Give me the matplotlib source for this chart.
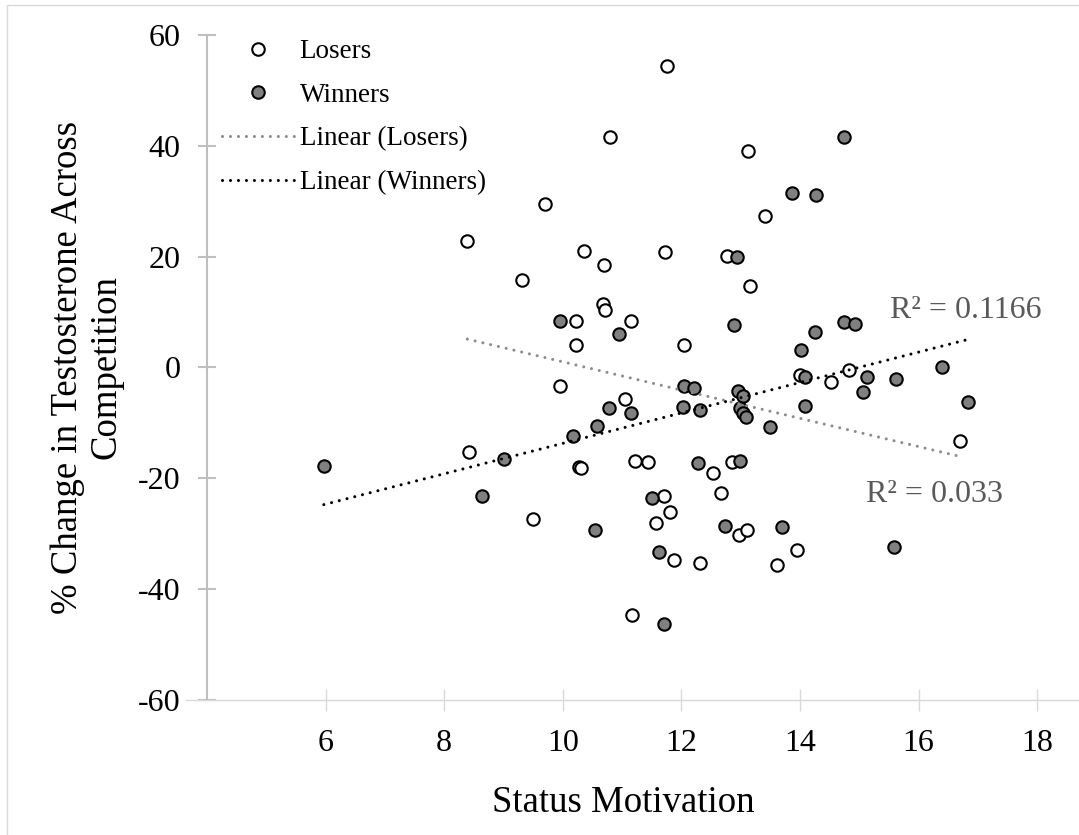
import numpy as np
import matplotlib
matplotlib.use('Agg')
import matplotlib.pyplot as plt
from matplotlib.lines import Line2D
from matplotlib.patches import Rectangle

plt.rcParams['font.family'] = ['Liberation Serif', 'DejaVu Serif']
plt.rcParams['axes.unicode_minus'] = False

# status motivation vs % change in testosterone, by outcome
losers_x = [11.76, 10.80, 9.70, 8.39, 10.35, 11.73, 13.13, 13.41, 9.32, 9.96,
            12.77, 10.70, 13.16, 10.68, 10.71, 10.22, 11.15, 10.22, 12.04, 14.00,
            11.05, 14.82, 14.52, 16.69, 8.42, 9.49, 10.27, 10.31, 11.22, 11.43,
            12.53, 12.85, 12.66, 11.70, 11.80, 11.57, 12.97, 13.11, 13.95, 13.62,
            11.88, 12.31, 11.16]
losers_y = [54.4, 41.6, 29.5, 22.8, 21.0, 20.8, 39.0, 27.3, 15.7, -3.4,
            20.1, 18.5, 14.7, 11.5, 10.3, 8.4, 8.4, 4.0, 4.0, -1.4,
            -5.6, -0.5, -2.6, -13.3, -15.3, -27.3, -17.9, -18.1, -16.8, -17.0,
            -19.0, -17.1, -22.6, -23.1, -26.0, -28.0, -30.3, -29.4, -32.9, -35.6,
            -34.8, -35.3, -44.7]

winners_x = [14.74, 13.86, 14.27, 12.94, 9.96, 12.89, 10.95, 14.02, 12.05, 12.21,
             14.09, 12.96, 13.04, 10.78, 12.02, 12.32, 12.99, 13.04, 13.09, 14.08,
             11.15, 10.58, 13.50, 10.18, 14.74, 14.92, 14.25, 16.40, 15.13, 15.62,
             15.06, 16.83, 5.97, 9.01, 8.63, 12.28, 12.98, 11.50, 10.55, 12.73,
             13.70, 11.62, 11.71, 15.58]
winners_y = [41.6, 31.5, 31.2, 20.0, 8.4, 7.6, 6.0, 3.2, -3.4, -3.7,
             -1.7, -4.3, -5.2, -7.3, -7.2, -7.7, -7.3, -8.3, -8.9, -7.0,
             -8.3, -10.5, -10.8, -12.4, 8.2, 7.9, 6.4, 0.0, -1.7, -2.0,
             -4.5, -6.3, -17.8, -16.6, -23.1, -17.3, -16.9, -23.5, -29.4, -28.6,
             -28.8, -33.3, -46.2, -32.4]

x_ticks = [6, 8, 10, 12, 14, 16, 18]
y_ticks = [-60, -40, -20, 0, 20, 40, 60]

r2_winners = 'R² = 0.1166'
r2_losers = 'R² = 0.033'

W, H = 1079, 835
fig = plt.figure(figsize=(W / 100, H / 100), dpi=100)

# chart area border
fig.add_artist(Rectangle((7 / W, -0.05), 2, 1 - 5 / H + 0.05, fill=False,
                         edgecolor='#d9d9d9', linewidth=1,
                         transform=fig.transFigure))

ax = fig.add_axes([207 / W, 1 - 700 / H, 1 - 207 / W, (700 - 35) / H])

ax.scatter(losers_x, losers_y, s=80, facecolor='white', edgecolor='black',
           linewidth=1.5, zorder=3)
ax.scatter(winners_x, winners_y, s=80, facecolor='#808080', edgecolor='black',
           linewidth=1.5, zorder=3)

# least-squares trend lines over each group's x range
dots = (0, (0.01, 2.6))
for xs, ys, col in [(losers_x, losers_y, '#8c8c8c'), (winners_x, winners_y, 'black')]:
    k, b = np.polyfit(xs, ys, 1)
    xx = np.array([min(xs), max(xs)])
    ax.plot(xx, k * xx + b, linestyle=dots, dash_capstyle='round', lw=2.2,
            color=col, zorder=4)

ax.text(15.51, 10.2, r2_winners, fontsize=23, color='#595959', va='center')
ax.text(15.12, -22.9, r2_losers, fontsize=23, color='#595959', va='center')

xmax = 4 + (W - 207) / 59.3
ax.set_xlim(4, xmax)
ax.set_ylim(-60, 60)
ax.set_xticks(x_ticks)
ax.set_yticks(y_ticks)
ax.tick_params(axis='x', direction='inout', length=16, width=1, color='#d9d9d9',
               pad=13, labelsize=23)
ax.tick_params(axis='y', direction='inout', length=13, width=1.5, color='#bfbfbf',
               pad=12.5, labelsize=23)
for s in ['top', 'right']:
    ax.spines[s].set_visible(False)
ax.spines['left'].set_color('#bfbfbf')
ax.spines['left'].set_linewidth(1.5)
ax.spines['left'].set_zorder(2.5)
ax.spines['bottom'].set_color('#d9d9d9')
ax.spines['bottom'].set_linewidth(1)
ax.spines['bottom'].set_bounds(3.65, xmax)

fig.text(623 / W, 1 - 812 / H, 'Status Motivation', fontsize=26.5,
         ha='center', va='baseline')
fig.text(87 / W, 1 - 367 / H, '% Change in Testosterone Across\nCompetition',
         fontsize=26.5, rotation=90, ha='center', va='center', linespacing=1.12)

handles = [
    Line2D([], [], marker='o', linestyle='none', ms=9, mfc='white', mec='black', mew=1.5),
    Line2D([], [], marker='o', linestyle='none', ms=9, mfc='#808080', mec='black', mew=1.5),
    Line2D([], [], linestyle=dots, dash_capstyle='round', lw=2.2, color='#8c8c8c'),
    Line2D([], [], linestyle=dots, dash_capstyle='round', lw=2.2, color='black'),
]
labels = ['Losers', 'Winners', 'Linear (Losers)', 'Linear (Winners)']
fig.legend(handles, labels, loc='upper left', bbox_to_anchor=(222 / W, 1 - 39 / H),
           frameon=False, fontsize=19.5, borderpad=0, borderaxespad=0,
           handlelength=2.65, handletextpad=0.22, labelspacing=0.69)

fig.savefig('out.png', dpi=100)
